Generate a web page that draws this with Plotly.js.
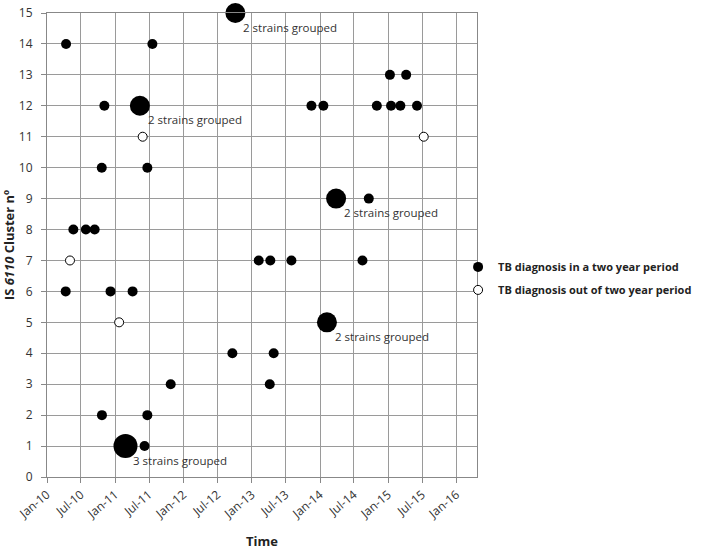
<!DOCTYPE html>
<html>
<head>
<meta charset="utf-8">
<script src="https://cdn.plot.ly/plotly-3.0.1.min.js"></script>
<style>
  html, body { margin: 0; padding: 0; background: #fff; }
  #tbChart { width: 717px; height: 550px; }
</style>
</head>
<body>
<div id="tbChart"></div>
<script>
// diagnosis within a two year period
var inDates = ['2010-04-13', '2011-07-19', '2015-01-10', '2015-04-07',
  '2010-11-04', '2013-11-16', '2014-01-19', '2014-11-01', '2015-01-16', '2015-03-07', '2015-06-04',
  '2010-10-21', '2011-06-22', '2014-09-19',
  '2010-05-22', '2010-07-28', '2010-09-13',
  '2013-02-07', '2013-04-10', '2013-08-01', '2014-08-16',
  '2010-04-11', '2010-12-07', '2011-04-04',
  '2012-09-19', '2013-04-28',
  '2011-10-25', '2013-04-07',
  '2010-10-22', '2011-06-22',
  '2011-06-07'];
var inClusters = [14, 14, 13, 13,
  12, 12, 12, 12, 12, 12, 12,
  10, 10, 9,
  8, 8, 8,
  7, 7, 7, 7,
  6, 6, 6,
  4, 4,
  3, 3,
  2, 2,
  1];

// diagnosis out of the two year period
var outDates = ['2011-05-28', '2015-07-10', '2010-05-04', '2011-01-22'];
var outClusters = [11, 11, 7, 5];

// several strains grouped on one point
var groupDates = ['2012-10-05', '2011-05-13', '2014-03-28', '2014-02-07', '2011-02-25'];
var groupClusters = [15, 12, 9, 5, 1];
var groupStrains = [2, 2, 2, 2, 3];

var tickDates = ['2010-01-01', '2010-07-01', '2011-01-01', '2011-07-01', '2012-01-01', '2012-07-01',
  '2013-01-01', '2013-07-01', '2014-01-01', '2014-07-01', '2015-01-01', '2015-07-01', '2016-01-01'];
var tickLabels = ['Jan-10', 'Jul-10', 'Jan-11', 'Jul-11', 'Jan-12', 'Jul-12',
  'Jan-13', 'Jul-13', 'Jan-14', 'Jul-14', 'Jan-15', 'Jul-15', 'Jan-16'];

var font = 'Open Sans, Noto Sans, sans-serif';

var inTrace = {
  x: inDates, y: inClusters,
  mode: 'markers', type: 'scatter',
  name: 'TB diagnosis in a two year period',
  legendgroup: 'in',
  cliponaxis: false,
  marker: {color: '#000', size: 10, opacity: 1, line: {width: 0}}
};

var groupTrace = {
  x: groupDates, y: groupClusters,
  mode: 'markers', type: 'scatter',
  showlegend: false,
  legendgroup: 'in',
  cliponaxis: false,
  marker: {
    color: '#000', opacity: 1, line: {width: 0},
    size: groupStrains.map(function (n) { return 12 + 4 * n; })
  }
};

var outTrace = {
  x: outDates, y: outClusters,
  mode: 'markers', type: 'scatter',
  name: 'TB diagnosis out of two year period',
  legendgroup: 'out',
  cliponaxis: false,
  marker: {color: '#fff', size: 9, line: {color: '#000', width: 1}}
};

var notes = groupDates.map(function (d, i) {
  return {
    x: d, y: groupClusters[i], xref: 'x', yref: 'y',
    text: groupStrains[i] + ' strains grouped',
    showarrow: false, xanchor: 'left', yanchor: 'middle',
    xshift: 6, yshift: -14,
    font: {family: font, size: 11.5, color: '#333'}
  };
});

var layout = {
  width: 717, height: 550,
  margin: {l: 47, r: 240, t: 13, b: 73},
  paper_bgcolor: '#fff', plot_bgcolor: '#fff',
  font: {family: font, size: 12, color: '#333'},
  showlegend: true,
  legend: {
    x: 0.956, y: 0.428, xanchor: 'left', yanchor: 'middle',
    bgcolor: 'rgba(0,0,0,0)',
    traceorder: 'grouped', tracegroupgap: 4,
    font: {family: font, size: 11, color: '#222', weight: 'bold'},
    itemwidth: 30
  },
  xaxis: {
    type: 'date',
    range: ['2010-01-01', '2016-04-20'],
    tickmode: 'array', tickvals: tickDates, ticktext: tickLabels,
    tickangle: -40,
    ticks: 'outside', ticklen: 5, tickcolor: '#888',
    showgrid: true, gridcolor: '#9a9a9a', gridwidth: 1,
    showline: true, linecolor: '#888', mirror: true,
    zeroline: false,
    tickfont: {family: font, size: 12, color: '#333'},
    title: {text: '<b>Time</b>', font: {family: font, size: 13, color: '#222'}, standoff: 28}
  },
  yaxis: {
    range: [0, 15], dtick: 1,
    ticks: 'outside', ticklen: 5, tickcolor: '#888',
    showgrid: true, gridcolor: '#9a9a9a', gridwidth: 1,
    showline: true, linecolor: '#888', mirror: true,
    zeroline: false,
    ticklabelstandoff: 6,
    tickfont: {family: font, size: 12, color: '#333'},
    title: {text: '<b>IS <i>6110</i> Cluster nº</b>', font: {family: font, size: 13, color: '#222'}, standoff: 6}
  },
  annotations: notes
};

Plotly.newPlot('tbChart', [groupTrace, inTrace, outTrace], layout, {displayModeBar: false, staticPlot: true});
</script>
</body>
</html>
